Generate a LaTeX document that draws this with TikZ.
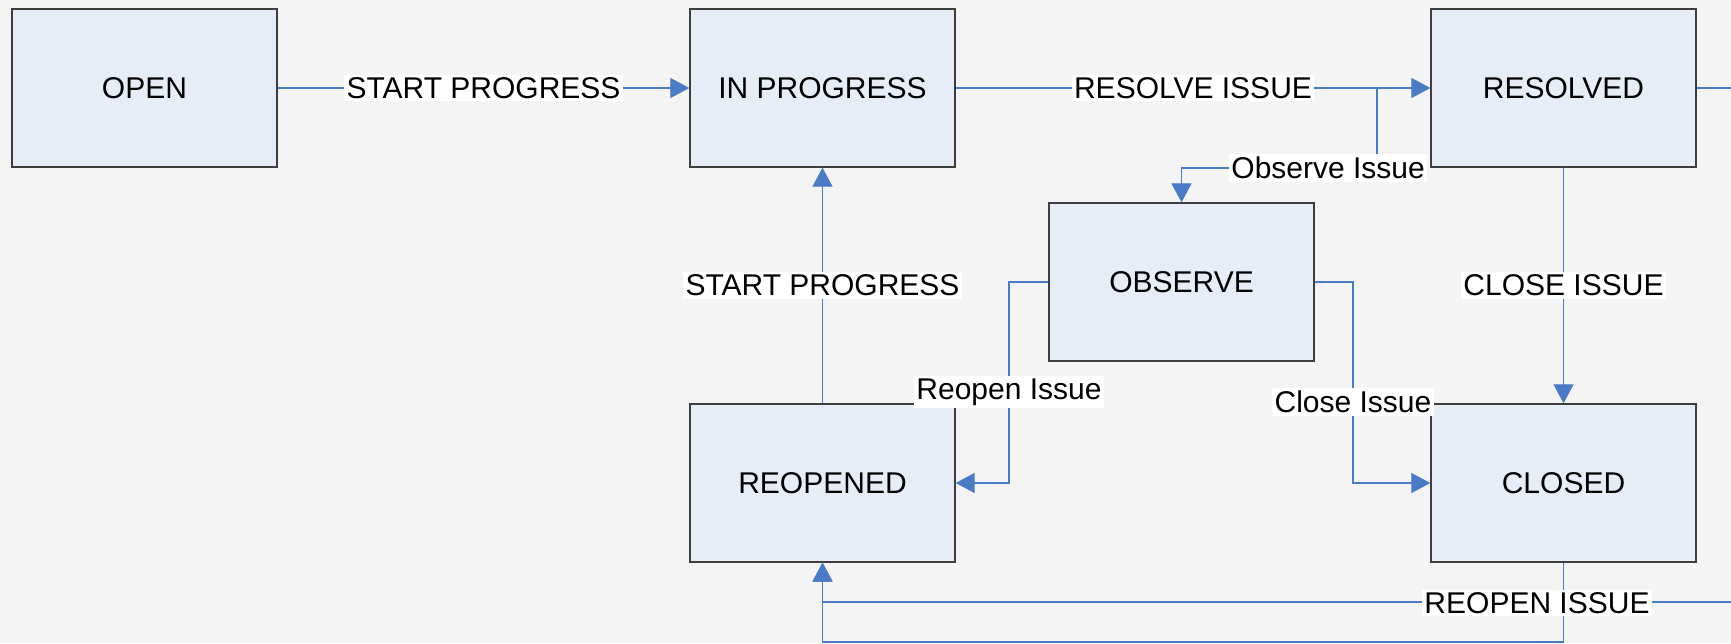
\documentclass[tikz,border=0pt]{standalone}
\usepackage{fontspec}
\setmainfont{Liberation Sans}
\usetikzlibrary{arrows.meta}
\definecolor{bg}{HTML}{F4F4F4}
\definecolor{boxfill}{HTML}{E7EDF7}
\definecolor{boxline}{HTML}{3E3E3E}
\definecolor{conncol}{HTML}{4A7BC6}
\tikzset{
  state/.style={draw=boxline, line width=1.3pt, fill=boxfill, minimum width=265pt, minimum height=158pt, inner sep=0pt, font=\fontsize{30}{32}\selectfont},
  conn/.style={draw=conncol, line width=1.1pt, -{Triangle[length=19pt,width=20pt]}},
  lbl/.style={fill=white, inner sep=2.5pt, text=black, font=\fontsize{30}{32}\selectfont}
}
\begin{document}
\begin{tikzpicture}[x=1pt,y=-1pt]
\clip (0,0) rectangle (1731,643);
\fill[bg] (0,0) rectangle (1731,643);
% states
\node[state] (open) at (144.5,88) {OPEN};
\node[state] (inprog) at (822.5,88) {IN PROGRESS};
\node[state] (resolved) at (1563.5,88) {RESOLVED};
\node[state] (observe) at (1181.5,282) {OBSERVE};
\node[state] (reopened) at (822.5,483) {REOPENED};
\node[state] (closed) at (1563.5,483) {CLOSED};
% helper coordinates
\coordinate (ob1) at (1377,168);
\coordinate (ob2) at (1181.5,168);
\coordinate (ro1) at (1009,282);
\coordinate (co1) at (1353,282);
\coordinate (bot) at (1563.5,642);
\coordinate (rr1) at (1765,88);
\coordinate (rr2) at (1765,602);
% connectors
\draw[conn] (inprog.east) -| (ob1) -- node[lbl,pos=0.25]{Observe Issue} (ob2) -- (observe.north);
\draw[conn] (open) -- node[lbl]{START PROGRESS} (inprog);
\draw[conn] (inprog) -- node[lbl]{RESOLVE ISSUE} (resolved);
\draw[conn] (reopened) -- node[lbl]{START PROGRESS} (inprog);
\draw[conn] (resolved) -- node[lbl]{CLOSE ISSUE} (closed);
\draw[conn] (observe.west) -- (ro1) |- (reopened.east);
\draw[conn] (observe.east) -- (co1) |- (closed.west);
\draw[conn] (closed.south) -- (bot) -| (reopened.south);
\draw[conn] (resolved.east) -- (rr1) -- (rr2) -| (reopened.south);
% labels drawn over boxes
\node[lbl] (lreopen) at (1009,392) {Reopen Issue};
\node[lbl] (lclose) at (1353,402) {Close Issue};
\node[lbl] (lreopen2) at (1537,603) {REOPEN ISSUE};
\end{tikzpicture}
\end{document}
